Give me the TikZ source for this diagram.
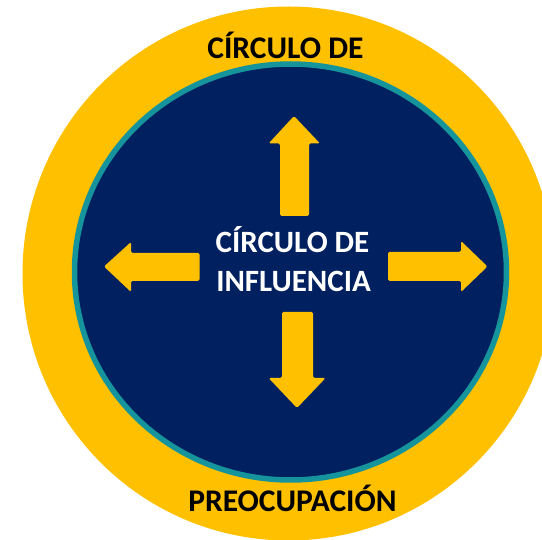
\documentclass[tikz,border=0pt]{standalone}
\usepackage{fontspec}
\setmainfont{Carlito}
\definecolor{gold}{RGB}{255,192,0}
\definecolor{navy}{RGB}{0,32,96}
\definecolor{teal2}{RGB}{22,148,155}
\begin{document}
\begin{tikzpicture}[x=1pt,y=-1pt,
  arrowshape/.style={fill=gold,rounded corners=1.5pt},
  outertext/.style={anchor=base,text=black,inner sep=0pt,font=\fontsize{31.5}{36}\selectfont\bfseries},
  innertext/.style={anchor=base,text=white,inner sep=0pt,font=\fontsize{31}{36}\selectfont\bfseries}]
\useasboundingbox (0,0) rectangle (542,540);
\clip (0,0) rectangle (542,540);
% outer circle
\fill[gold] (288.5,273.5) ellipse [x radius=266, y radius=267];
% inner circle
\filldraw[fill=navy,draw=teal2,line width=5.5pt] (290.5,272) ellipse [x radius=216, y radius=208];
% arrows
\fill[arrowshape] (280,216) -- (280,143.5) -- (268.6,143.5) -- (294,116) -- (320,143.5) -- (309,143.5) -- (309,216) -- cycle;
\fill[arrowshape] (282,312) -- (282,378) -- (268.6,378) -- (297,408) -- (325.6,378) -- (313,378) -- (313,312) -- cycle;
\fill[arrowshape] (199.5,253) -- (131,253) -- (131,242) -- (104,266.5) -- (131,292) -- (131,281) -- (199.5,281) -- cycle;
\fill[arrowshape] (388,252) -- (461,252) -- (461,241) -- (487.5,266.5) -- (461,292) -- (461,281) -- (388,281) -- cycle;
% texts
\node[outertext] (top) at (285.5,59) {CÍRCULO DE};
\node[outertext] (bottom) at (292.5,512) {PREOCUPACIÓN};
\node[innertext] (in1) at (292.5,253) {CÍRCULO DE};
\node[innertext] (in2) at (293.5,292) {INFLUENCIA};
\end{tikzpicture}
\end{document}
